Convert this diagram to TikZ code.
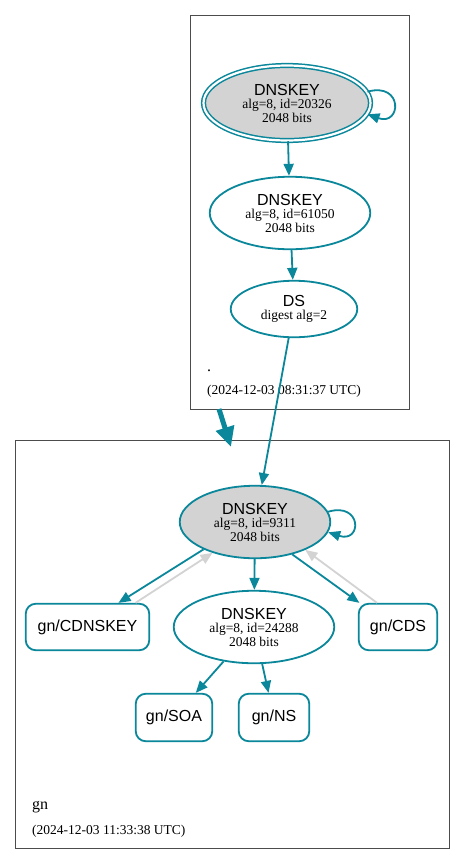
\documentclass[tikz,border=0pt]{standalone}
\usepackage{fontspec}
\setmainfont{Liberation Serif}
\setsansfont{Liberation Sans}
\usepackage{xcolor}
\usetikzlibrary{shapes.geometric,arrows.meta}

\definecolor{dnsteal}{HTML}{0A879A}
\definecolor{dnsgray}{HTML}{D3D3D3}
\newcommand{\hdr}[1]{{\sffamily\fontsize{16}{16}\selectfont #1}}

\begin{document}
\begin{tikzpicture}[x=1pt, y=-1pt,
      every node/.style = {font=\fontsize{13.5}{13.5}\selectfont, inner sep=0pt},
      key/.style = {ellipse, draw=dnsteal, line width=1.8pt, align=center},
      ksk/.style = {key, fill=dnsgray},
      trust/.style = {ksk, line width=1.5pt, double=white, double distance=2.2pt},
      rrset/.style = {draw=dnsteal, line width=1.8pt, rounded corners=10pt,
            minimum height=46.5pt, font=\sffamily\fontsize{16}{16}\selectfont},
      zone/.style = {draw=black!70, line width=0.7pt},
      zonename/.style = {anchor=base west, font=\fontsize{16}{16}\selectfont},
      stamp/.style = {anchor=base west},
      sig/.style = {draw=dnsteal, line width=1.8pt, -{Triangle[length=12pt,width=10pt]}},
      cdsref/.style = {sig, draw=dnsgray},
      deleg/.style = {draw=dnsteal, line width=5pt, -{Triangle[length=20pt,width=18pt]}}
      ]
      \fill[white] (0,0) rectangle (465,865);
      \useasboundingbox (0,0) rectangle (465,865);

      % zone boxes
      \draw[zone] (190,15) rectangle (409,409);
      \draw[zone] (15,440) rectangle (449,848);
      \node[zonename] (rootname) at (207,371) {.};
      \node[stamp] (rootstamp) at (207,394) {(2024-12-03 08:31:37 UTC)};
      \node[zonename] (gnname) at (32,809) {gn};
      \node[stamp] (gnstamp) at (32,834) {(2024-12-03 11:33:38 UTC)};

      % root zone
      \node[trust, minimum width=167pt, minimum height=75pt] (ksk20326) at (287,103)
            {\hdr{DNSKEY}\\alg=8, id=20326\\2048 bits};
      \node[key, minimum width=160.5pt, minimum height=72.5pt] (k61050) at (290,213)
            {\hdr{DNSKEY}\\alg=8, id=61050\\2048 bits};
      \node[key, minimum width=126.5pt, minimum height=56.5pt] (ds) at (294,309)
            {\hdr{DS}\\digest alg=2};

      % gn zone
      \node[ksk, minimum width=150.5pt, minimum height=72.5pt] (k9311) at (255,522)
            {\hdr{DNSKEY}\\alg=8, id=9311\\2048 bits};
      \node[key, minimum width=160.5pt, minimum height=72.5pt] (k24288) at (254,627)
            {\hdr{DNSKEY}\\alg=8, id=24288\\2048 bits};
      \node[rrset, minimum width=123.5pt] (cdnskey) at (87.5,627) {gn/CDNSKEY};
      \node[rrset, minimum width=78.5pt] (cds) at (398,627) {gn/CDS};
      \node[rrset, minimum width=76.5pt, minimum height=47.5pt] (soa) at (174,717.5) {gn/SOA};
      \node[rrset, minimum width=70.5pt, minimum height=47.5pt] (ns) at (274,717.5) {gn/NS};

      \coordinate (delegtail) at (219,409);
      \coordinate (deleghead) at (231,447);

      % edges
      \draw[sig] (ksk20326.8) .. controls +(36,-10) and +(34,12) .. (ksk20326.-8);
      \draw[sig] (ksk20326) -- (k61050);
      \draw[sig] (k61050) -- (ds);
      \draw[sig] (ds) -- (k9311);
      \draw[deleg] (delegtail) -- (deleghead);
      \draw[sig] (k9311.8) .. controls +(34,-10) and +(34,11) .. (k9311.-8);
      \draw[sig] (k9311) -- (k24288);
      \draw[sig] (k9311.208) -- ([xshift=31pt]cdnskey.north);
      \draw[cdsref] ([xshift=48pt]cdnskey.north) -- (k9311.216);
      \draw[sig] (k9311.-41) -- (cds.148);
      \draw[cdsref] ([xshift=-21pt]cds.north) -- (k9311.-29);
      \draw[sig] (k24288) -- (soa);
      \draw[sig] (k24288) -- (ns);
\end{tikzpicture}
\end{document}
